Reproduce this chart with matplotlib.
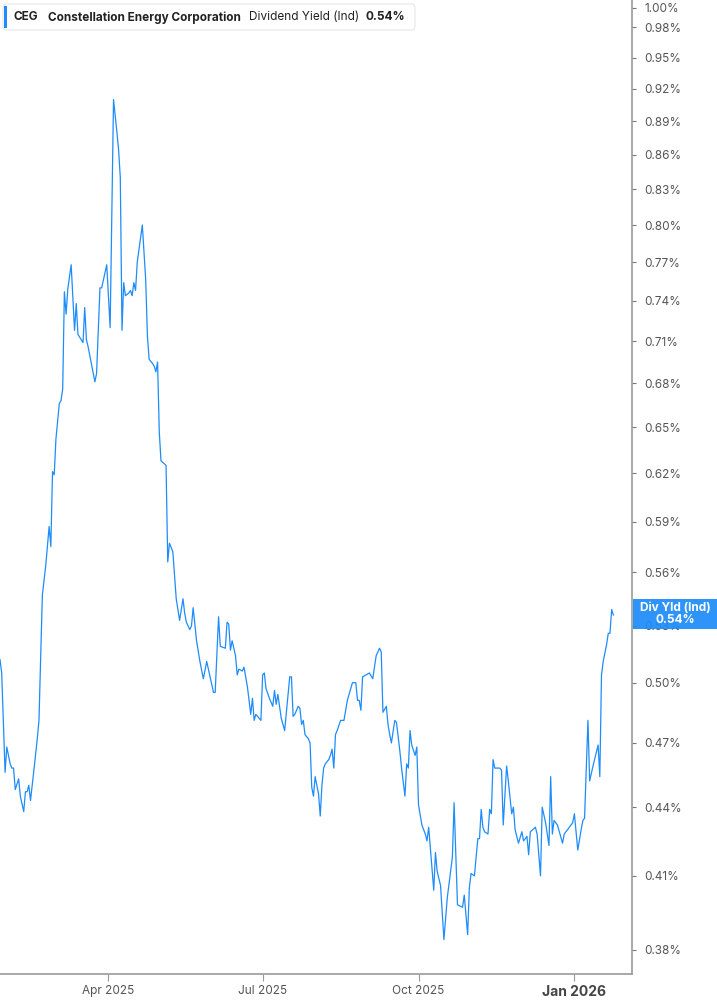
import matplotlib
matplotlib.use("Agg")
import matplotlib.pyplot as plt
import matplotlib.patches as patches
import pandas as pd

# days after 2025-01-27 and dividend yield (%)
day = [0, 1, 3, 4, 6, 7, 8, 9, 11, 12, 14, 15, 16, 17, 18, 20, 22, 23, 25, 27,
       29, 30, 31, 32, 33, 35, 36, 37, 38, 39, 40, 42, 44, 45, 46, 49, 50, 51, 52, 56,
       57, 59, 60, 63, 65, 67, 69, 70, 71, 72, 73, 74, 76, 77, 78, 79, 80, 81, 84, 86,
       87, 88, 90, 91, 92, 93, 94, 95, 98, 99, 100, 102, 104, 106, 108, 109, 110, 112, 113, 114,
       116, 118, 120, 122, 124, 126, 127, 129, 130, 133, 134, 135, 136, 137, 139, 140, 141, 143, 144, 146,
       148, 149, 150, 151, 153, 154, 155, 156, 157, 159, 161, 162, 163, 164, 166, 168, 171, 172, 173, 174,
       176, 177, 178, 179, 180, 182, 183, 184, 185, 186, 188, 189, 190, 191, 192, 194, 195, 196, 197, 198,
       199, 201, 203, 205, 206, 208, 210, 211, 212, 213, 214, 216, 218, 220, 222, 224, 225, 226, 228, 229,
       230, 231, 233, 234, 236, 237, 239, 240, 241, 242, 243, 245, 246, 247, 249, 251, 252, 253, 256, 257,
       258, 260, 262, 264, 267, 268, 270, 273, 274, 276, 277, 278, 280, 282, 283, 284, 285, 286, 288, 289,
       290, 291, 292, 295, 296, 297, 299, 300, 302, 303, 304, 306, 308, 309, 311, 312, 313, 316, 317, 319,
       320, 322, 324, 325, 326, 327, 329, 332, 333, 335, 338, 339, 341, 343, 344, 345, 347, 348, 350, 353,
       354, 355, 356, 358, 359, 360, 361, 362]
yld = [0.512, 0.505, 0.456, 0.468, 0.460, 0.458, 0.458, 0.448, 0.453, 0.445, 0.438, 0.447, 0.447, 0.450, 0.443, 0.457, 0.472, 0.481, 0.547, 0.564,
       0.587, 0.575, 0.621, 0.619, 0.642, 0.666, 0.668, 0.676, 0.747, 0.730, 0.749, 0.768, 0.718, 0.738, 0.715, 0.709, 0.735, 0.711, 0.706, 0.681,
       0.687, 0.750, 0.750, 0.768, 0.720, 0.910, 0.880, 0.864, 0.840, 0.718, 0.754, 0.744, 0.746, 0.748, 0.744, 0.754, 0.748, 0.770, 0.800, 0.756,
       0.714, 0.697, 0.694, 0.692, 0.688, 0.695, 0.647, 0.628, 0.625, 0.566, 0.577, 0.572, 0.545, 0.533, 0.545, 0.537, 0.532, 0.528, 0.530, 0.540,
       0.522, 0.511, 0.502, 0.511, 0.503, 0.495, 0.495, 0.535, 0.519, 0.518, 0.532, 0.531, 0.517, 0.522, 0.514, 0.504, 0.507, 0.506, 0.508, 0.498,
       0.484, 0.492, 0.481, 0.484, 0.482, 0.481, 0.504, 0.505, 0.497, 0.492, 0.488, 0.496, 0.489, 0.494, 0.482, 0.476, 0.503, 0.503, 0.483, 0.484,
       0.488, 0.487, 0.479, 0.481, 0.474, 0.472, 0.470, 0.449, 0.445, 0.454, 0.446, 0.436, 0.450, 0.458, 0.460, 0.462, 0.464, 0.467, 0.458, 0.474,
       0.476, 0.481, 0.481, 0.491, 0.494, 0.500, 0.500, 0.491, 0.491, 0.486, 0.503, 0.504, 0.505, 0.502, 0.514, 0.518, 0.516, 0.485, 0.488, 0.479,
       0.474, 0.470, 0.481, 0.480, 0.466, 0.458, 0.445, 0.460, 0.458, 0.476, 0.469, 0.464, 0.468, 0.441, 0.432, 0.428, 0.425, 0.431, 0.404, 0.420,
       0.412, 0.406, 0.384, 0.401, 0.418, 0.442, 0.398, 0.397, 0.402, 0.386, 0.405, 0.411, 0.410, 0.426, 0.426, 0.439, 0.431, 0.429, 0.428, 0.439,
       0.437, 0.462, 0.458, 0.458, 0.457, 0.432, 0.459, 0.452, 0.437, 0.440, 0.430, 0.424, 0.429, 0.425, 0.427, 0.419, 0.429, 0.431, 0.428, 0.410,
       0.440, 0.433, 0.423, 0.454, 0.428, 0.434, 0.432, 0.424, 0.428, 0.430, 0.433, 0.437, 0.421, 0.430, 0.434, 0.435, 0.481, 0.452, 0.459, 0.469,
       0.454, 0.504, 0.511, 0.520, 0.526, 0.526, 0.539, 0.536]

start = pd.Timestamp("2025-01-27")
dates = start + pd.to_timedelta(day, unit="D")

ytick_vals = [0.38, 0.41, 0.44, 0.47, 0.50, 0.53, 0.56, 0.59, 0.62, 0.65, 0.68,
              0.71, 0.74, 0.77, 0.80, 0.83, 0.86, 0.89, 0.92, 0.95, 0.98, 1.00]
xtick_dates = ["2025-04-01", "2025-07-01", "2025-10-01", "2026-01-01"]
xtick_labels = ["Apr 2025", "Jul 2025", "Oct 2025", "Jan 2026"]

ticker = "CEG"
company = "Constellation Energy Corporation"
metric = "Dividend Yield (Ind)"
last_txt = "0.54%"

blue = "#1e8cfa"
grey = "#555555"

plt.rcParams["font.family"] = ["Inter", "DejaVu Sans"]

fig = plt.figure(figsize=(7.17, 10.05), dpi=100)
ax = fig.add_axes([0, 31 / 1005, 632 / 717, 974 / 1005])

ax.plot(dates, yld, color=blue, lw=0.9)

ax.set_yscale("log")
ax.set_ylim(0.3707, 1.008)
ax.set_xlim(pd.Timestamp("2025-01-27"), pd.Timestamp("2026-02-04"))

ax.yaxis.tick_right()
ax.set_yticks(ytick_vals)
ax.set_yticklabels([f"{v:.2f}%" for v in ytick_vals])
ax.yaxis.set_minor_locator(matplotlib.ticker.NullLocator())
ax.tick_params(axis="y", length=3, width=0.8, color="#777777", labelsize=8.5,
               labelcolor=grey, pad=6)

ax.set_xticks(pd.to_datetime(xtick_dates))
ax.set_xticklabels(xtick_labels)
ax.tick_params(axis="x", length=5, width=0.8, color="#999999", labelsize=8.5,
               labelcolor=grey, pad=3)
last_lab = ax.get_xticklabels()[-1]
last_lab.set_fontweight("bold")
last_lab.set_fontsize(10)
last_lab.set_color("#444444")

for s in ["top", "left"]:
    ax.spines[s].set_visible(False)
for s in ["right", "bottom"]:
    ax.spines[s].set_color("#999999")
    ax.spines[s].set_linewidth(1.2)

# header box top-left
hdr = patches.FancyBboxPatch((3 / 717, 1 - 30 / 1005), 412 / 717, 26 / 1005,
                             boxstyle="round,pad=0,rounding_size=0.004",
                             transform=fig.transFigure, facecolor="white",
                             edgecolor="#e6e6e6", lw=0.8, zorder=5)
fig.patches.append(hdr)
bar = patches.Rectangle((4 / 717, 1 - 28 / 1005), 3 / 717, 22 / 1005,
                        transform=fig.transFigure, facecolor=blue, edgecolor="none", zorder=6)
fig.patches.append(bar)
ty = 1 - 17.5 / 1005
fig.text(14 / 717, ty, ticker, fontsize=8.5, fontweight="bold", color="#222222", va="center", zorder=7)
fig.text(48 / 717, ty, company, fontsize=8.5, fontweight="bold", color="#222222", va="center", zorder=7)
fig.text(249 / 717, ty, metric, fontsize=8.5, color="#222222", va="center", zorder=7)
fig.text(365 / 717, ty, last_txt, fontsize=8.5, fontweight="bold", color="#222222", va="center", zorder=7)

# last value label on the right axis
lab = patches.Rectangle((633 / 717, 1 - 629 / 1005), 84 / 717, 30 / 1005,
                        transform=fig.transFigure, facecolor=blue, edgecolor="none",
                        alpha=0.93, zorder=10)
fig.patches.append(lab)
fig.text(675 / 717, 1 - 608 / 1005, "Div Yld (Ind)", fontsize=8.5, fontweight="bold",
         color="white", ha="center", va="center", zorder=11)
fig.text(675 / 717, 1 - 620 / 1005, last_txt, fontsize=8.5, fontweight="bold",
         color="white", ha="center", va="center", zorder=11)

fig.savefig("out.png", dpi=100)
